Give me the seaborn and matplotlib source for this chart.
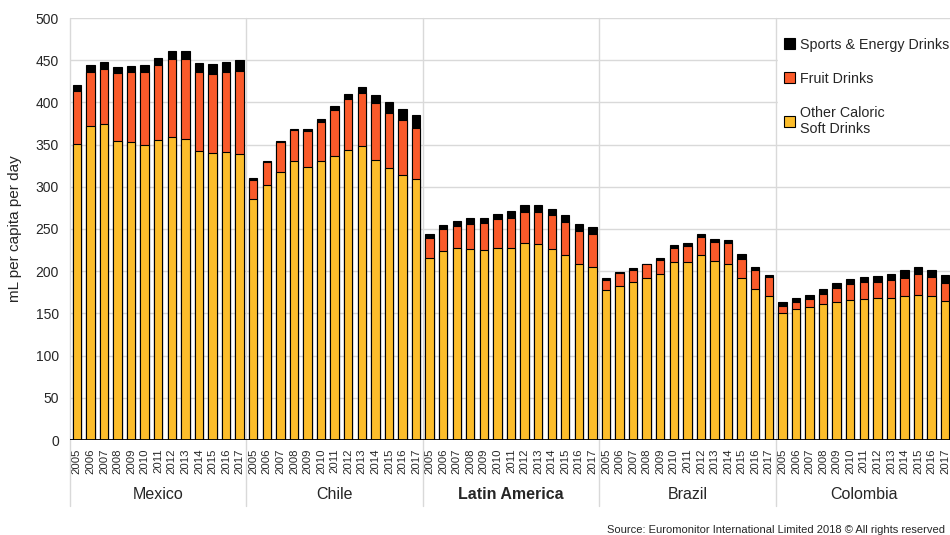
import matplotlib
matplotlib.use('Agg')
import matplotlib.pyplot as plt
import matplotlib.transforms as mtransforms
from matplotlib.patches import Patch
import seaborn as sns
import pandas as pd

# dados (mL per capita per day)
groups = ['Mexico', 'Chile', 'Latin America', 'Brazil', 'Colombia']
years = [2005, 2006, 2007, 2008, 2009, 2010, 2011, 2012, 2013, 2014, 2015, 2016, 2017]

other_mexico = [351, 372, 374, 354, 353, 350, 355, 359, 357, 343, 340, 341, 339]
fruit_mexico = [62, 64, 65, 80.5, 82.5, 85.5, 89, 93, 95, 93, 93.5, 95, 98.5]
sports_mexico = [7.5, 8, 8.5, 7.5, 7.5, 8.5, 9, 9, 9, 11, 11.5, 12, 13]

other_chile = [286, 302, 318, 330.5, 324, 330.5, 337, 343.5, 348, 331.5, 322, 314, 309]
fruit_chile = [22.5, 27.5, 34.5, 36.5, 42.5, 46.5, 54, 60, 63.5, 67.5, 66, 65, 61]
sports_chile = [1.5, 1.5, 2, 2, 2.5, 3, 4.5, 6.5, 6.5, 9.5, 12.5, 13, 15]

other_latam = [216, 224, 227, 226, 225, 228, 228, 234, 232, 226, 219, 209, 205]
fruit_latam = [23.5, 25.5, 27, 30.5, 32, 34, 35.5, 36.5, 38.5, 40, 39, 39, 38.5]
sports_latam = [4, 5, 5.5, 6, 5.5, 6, 7.5, 7.5, 7.5, 7.5, 8, 8, 8.5]

other_brazil = [177.5, 182.5, 187, 191.5, 196.5, 210.5, 211, 219, 212, 208, 191.5, 179.5, 171]
fruit_brazil = [12, 15, 15, 16.5, 16.5, 17.5, 19, 21, 22.5, 25, 23.5, 22.5, 22]
sports_brazil = [2, 1, 2, 1, 2.5, 3, 3, 3.5, 4, 4, 5, 3, 3]

other_colombia = [151, 155, 157, 161, 164, 166, 167.5, 168.5, 168.5, 170.5, 172, 170.5, 164.5]
fruit_colombia = [8, 9, 10, 12, 16, 19, 19.5, 19, 20.5, 22, 24.5, 23, 21.5]
sports_colombia = [4, 4, 5, 5.5, 5.5, 5.5, 6.5, 7, 7.5, 8.5, 8, 8.5, 9]

other_all = [other_mexico, other_chile, other_latam, other_brazil, other_colombia]
fruit_all = [fruit_mexico, fruit_chile, fruit_latam, fruit_brazil, fruit_colombia]
sports_all = [sports_mexico, sports_chile, sports_latam, sports_brazil, sports_colombia]

rows = []
for g, o_list, f_list, s_list in zip(groups, other_all, fruit_all, sports_all):
    for y, o, f, s in zip(years, o_list, f_list, s_list):
        rows.append({'slot': f'{g} {y}', 'group': g, 'year': y,
                     'other': o, 'fruit_top': o + f, 'total': o + f + s})
df = pd.DataFrame(rows)
order = list(df['slot'])

c_other = '#FCBD2B'
c_fruit = '#FA5A2A'
c_sports = '#000000'

sns.set_style('white')
plt.rcParams['font.family'] = ['Liberation Sans', 'DejaVu Sans']

fig = plt.figure(figsize=(9.5, 5.35), dpi=100)
ax = fig.add_axes([70 / 950, 95 / 535, 882 / 950, 422 / 535])

# barras empilhadas: desenha o total e sobrepoe as camadas
kw = dict(x='slot', y=None, order=order, width=0.62, edgecolor='black',
          linewidth=0.8, errorbar=None, ax=ax, zorder=3)
for col, color in [('total', c_sports), ('fruit_top', c_fruit), ('other', c_other)]:
    kw['y'] = col
    sns.barplot(data=df, color=color, saturation=1, **kw)

ax.set_xlim(-0.5, len(order) - 0.5)
ax.set_ylim(0, 500)
ax.set_yticks(range(0, 501, 50))
ax.yaxis.grid(True, color='#d9d9d9', linewidth=1, zorder=0)
ax.set_axisbelow(True)
for sp in ax.spines.values():
    sp.set_visible(False)
ax.axhline(0, color='black', linewidth=1.3, zorder=4)

ax.set_xticks(range(len(order)))
ax.set_xticklabels([str(y) for y in df['year']], rotation=90, fontsize=8.2)
ax.tick_params(axis='x', length=0, pad=6)
ax.tick_params(axis='y', length=0, pad=8, labelsize=10)
ax.set_xlabel('')
ax.set_ylabel('mL per capita per day', fontsize=11)
ax.yaxis.set_label_coords(-0.054, 0.5)

trans = mtransforms.blended_transform_factory(ax.transData, ax.transAxes)
n = len(years)
for i, g in enumerate(groups):
    x0 = i * n - 0.5
    ax.plot([x0, x0], [1, -0.156], transform=trans, clip_on=False,
            color='#d9d9d9', linewidth=1, zorder=1)
    ax.text(i * n + (n - 1) / 2, -0.128, g, transform=trans, ha='center', va='center',
            fontsize=11.5, fontweight='bold' if g == 'Latin America' else 'normal')

handles = [Patch(facecolor=c_sports, edgecolor='black', linewidth=0.8),
           Patch(facecolor=c_fruit, edgecolor='black', linewidth=0.8),
           Patch(facecolor=c_other, edgecolor='black', linewidth=0.8)]
labels = ['Sports & Energy Drinks', 'Fruit Drinks', 'Other Caloric\nSoft Drinks']
leg = ax.legend(handles, labels, loc='upper left', bbox_to_anchor=(0.803, 0.967),
                frameon=True, facecolor='white', edgecolor='white', framealpha=1,
                fontsize=10.3, handlelength=0.8, handleheight=0.8, handletextpad=0.3,
                labelspacing=1.4, borderpad=0.4, borderaxespad=0, fancybox=False)
leg.set_zorder(5)

fig.text(607 / 950, 5 / 535, 'Source: Euromonitor International Limited 2018 \u00a9 All rights reserved',
         ha='left', va='center', fontsize=8.0)

fig.savefig('out.png', dpi=100)
